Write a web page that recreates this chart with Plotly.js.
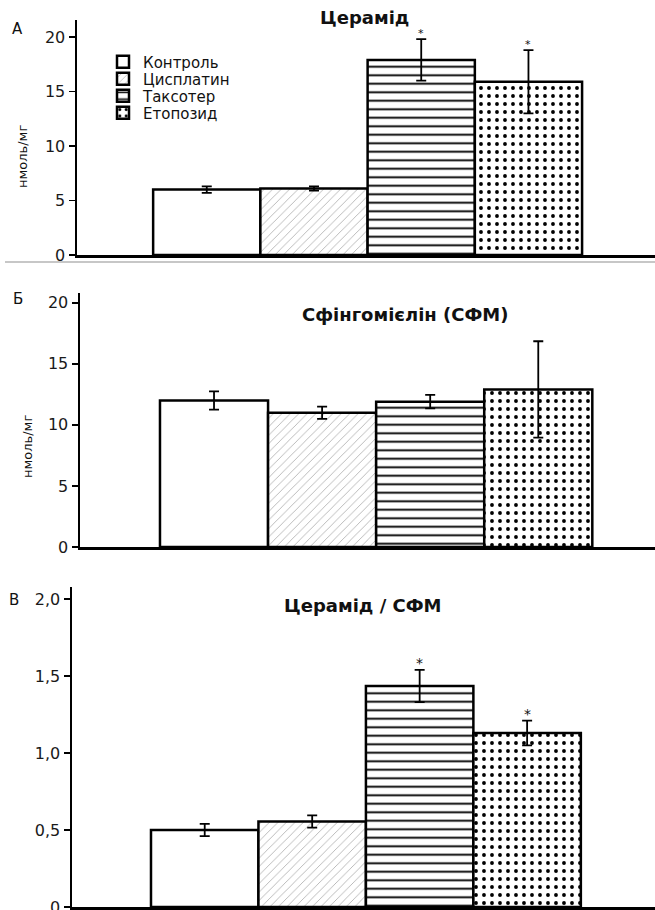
<!DOCTYPE html>
<html>
<head>
<meta charset="utf-8">
<script src="https://cdn.plot.ly/plotly-3.0.1.min.js"></script>
<style>html,body{margin:0;padding:0;background:#fff;}#chart{width:655px;height:910px;}</style>
</head>
<body>
<div id="chart"></div>
<script>
// ---- data ----
const categories = ['Контроль', 'Цисплатин', 'Таксотер', 'Етопозид'];
const ceramide = [6.0, 6.1, 17.9, 15.9];
const ceramideErr = [0.3, 0.2, 1.9, 2.9];
const ceramideSig = [false, false, true, true];
const sphingomyelin = [12.0, 11.0, 11.9, 12.9];
const sphingomyelinErr = [0.75, 0.5, 0.55, 3.95];
const sphingomyelinSig = [false, false, false, false];
const ratio = [0.50, 0.555, 1.435, 1.13];
const ratioErr = [0.04, 0.04, 0.105, 0.08];
const ratioSig = [false, false, true, true];
const panelTitles = ['Церамід', 'Сфінгомієлін (СФМ)', 'Церамід / СФМ'];
const panelLetters = ['А', 'Б', 'В'];
const unitLabel = 'нмоль/мг';
const nmolTicks = [0, 5, 10, 15, 20];
const ratioTickVals = [0, 0.5, 1.0, 1.5, 2.0];
const ratioTickText = ['0', '0,5', '1,0', '1,5', '2,0'];

// ---- styles ----
const FONT = 'DejaVu Sans, Liberation Sans, Arial, sans-serif';
const patterns = [
  {shape: ''},
  {shape: '/', fgcolor: '#8f8f8f', bgcolor: '#ffffff', size: 6, solidity: 0.1},
  {shape: '-', fgcolor: '#000000', bgcolor: '#ffffff', size: 8.5, solidity: 0.22},
  {shape: '.', fgcolor: '#000000', bgcolor: '#ffffff', size: 8, solidity: 0.18}
];
const legendRowsPx = [62, 79, 96, 113];

const panels = [
  {vals: ceramide, err: ceramideErr, sig: ceramideSig, xa: 'x', ya: 'y',
   xdom: [77/655, 1], ydom: [1-255/910, 1-20/910], yrange: [0, 21.56], xrange: [-1.21, 4.18],
   title: {x: 364, y: 17}, letter: {x: 17, y: 29}, unit: {x: 22, y: 157}, star: 11},
  {vals: sphingomyelin, err: sphingomyelinErr, sig: sphingomyelinSig, xa: 'x2', ya: 'y2',
   xdom: [80/655, 1], ydom: [1-547/910, 1-293/910], yrange: [0, 20.8], xrange: [-1.24, 4.08],
   title: {x: 405, y: 314}, letter: {x: 18, y: 299}, unit: {x: 27, y: 447}, star: 11},
  {vals: ratio, err: ratioErr, sig: ratioSig, xa: 'x3', ya: 'y3',
   xdom: [72/655, 1], ydom: [1-907/910, 1-587/910], yrange: [0, 2.078], xrange: [-1.235, 4.19],
   title: {x: 362, y: 605}, letter: {x: 14, y: 600}, unit: null, star: 14}
];

const traces = [];
const annotations = [];
const layout = {
  width: 655, height: 910,
  margin: {l: 0, r: 0, t: 0, b: 0},
  paper_bgcolor: '#fff', plot_bgcolor: 'rgba(0,0,0,0)',
  barmode: 'overlay',
  separators: ',.',
  font: {family: FONT, color: '#111'},
  showlegend: true,
  annotations: annotations,
  shapes: [
    {type: 'line', xref: 'paper', yref: 'paper', x0: 5/655, x1: 1, y0: 1-262/910, y1: 1-262/910,
     line: {color: '#b4b4b4', width: 1.5}}
  ]
};

// one legend per entry so rows sit at the reference spacing
categories.forEach((c, i) => {
  const key = i === 0 ? 'legend' : 'legend' + (i + 1);
  layout[key] = {x: 103/655, xanchor: 'left', y: 1 - legendRowsPx[i]/910, yanchor: 'middle',
    bgcolor: 'rgba(0,0,0,0)', font: {size: 15, family: FONT, color: '#111'}, itemclick: false};
});

panels.forEach((p, pi) => {
  const sx = pi === 0 ? '' : String(pi + 1);
  categories.forEach((c, i) => {
    traces.push({
      type: 'bar', x: [c], y: [p.vals[i]], width: [1],
      xaxis: p.xa, yaxis: p.ya, name: c,
      legend: i === 0 ? 'legend' : 'legend' + (i + 1),
      showlegend: pi === 0,
      marker: {color: '#ffffff', line: {color: '#000', width: 2.5}, pattern: patterns[i]},
      error_y: {type: 'data', array: [p.err[i]], visible: true, color: '#000', thickness: 1.8, width: 5},
      hoverinfo: 'skip'
    });
    if (p.sig[i]) {
      annotations.push({xref: p.xa, yref: p.ya, x: c, y: p.vals[i] + p.err[i],
        text: '*', showarrow: false, yanchor: 'bottom', yshift: -3,
        font: {size: p.star, family: FONT, color: '#111'}});
    }
  });
  layout['xaxis' + sx] = {
    domain: p.xdom, anchor: p.ya, type: 'category', categoryarray: categories,
    range: p.xrange, showline: true, linecolor: '#000', linewidth: 2.5,
    showticklabels: false, ticks: '', showgrid: false, zeroline: false, fixedrange: true
  };
  const ya = {
    domain: p.ydom, anchor: p.xa, range: p.yrange,
    showline: true, linecolor: '#000', linewidth: 2.5,
    ticks: 'outside', ticklen: 6, tickwidth: 1.5, tickcolor: '#000',
    showgrid: false, zeroline: false, fixedrange: true, ticklabeloverflow: 'allow',
    tickfont: {size: 16, family: FONT, color: '#1a1a1a'}
  };
  if (pi === 2) { ya.tickvals = ratioTickVals; ya.ticktext = ratioTickText; }
  else { ya.tickvals = nmolTicks; ya.ticktext = nmolTicks.map(String); }
  layout['yaxis' + sx] = ya;

  annotations.push({xref: 'paper', yref: 'paper', x: p.title.x/655, y: 1 - p.title.y/910,
    text: '<b>' + panelTitles[pi] + '</b>', showarrow: false, xanchor: 'center', yanchor: 'middle',
    font: {size: 18, family: FONT, color: '#111'}});
  annotations.push({xref: 'paper', yref: 'paper', x: p.letter.x/655, y: 1 - p.letter.y/910,
    text: panelLetters[pi], showarrow: false, xanchor: 'center', yanchor: 'middle',
    font: {size: 15, family: FONT, color: '#111'}});
  if (p.unit) {
    annotations.push({xref: 'paper', yref: 'paper', x: p.unit.x/655, y: 1 - p.unit.y/910,
      text: unitLabel, showarrow: false, textangle: -90, xanchor: 'center', yanchor: 'middle',
      font: {size: 13, family: FONT, color: '#111'}});
  }
});

Plotly.newPlot('chart', traces, layout, {staticPlot: true, displayModeBar: false});
</script>
</body>
</html>
